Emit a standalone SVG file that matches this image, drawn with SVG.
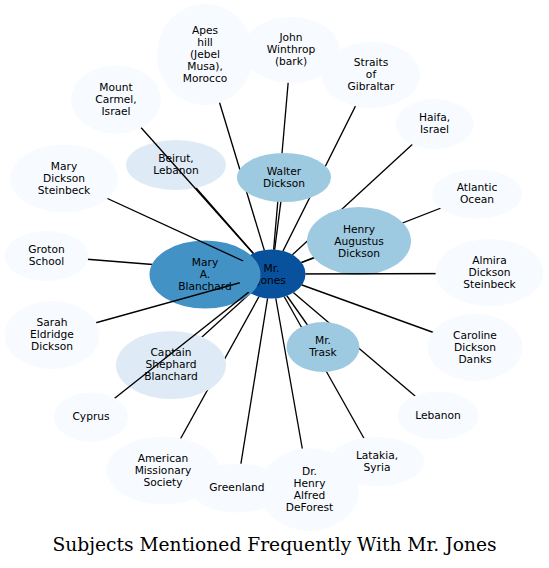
<svg xmlns="http://www.w3.org/2000/svg" xmlns:xlink="http://www.w3.org/1999/xlink" width="549" height="568" viewBox="0 0 549 568">
<style>
.c0{fill:#08519c}.c1{fill:#4292c6}.c2{fill:#9ecae1}.c3{fill:#deebf7}.c4{fill:#f7fbff}
.t{font-family:"DejaVu Sans","Liberation Sans",sans-serif;font-size:10.67px;text-anchor:middle;fill:#000}
.title{font-family:"DejaVu Serif","Liberation Serif",serif;font-size:18.67px;text-anchor:middle;fill:#000}
.e{stroke:#000;stroke-width:1.33;fill:none}
</style>
<defs>
<g id="mb" fill="#000">
<ellipse cx="271.5" cy="274" rx="34" ry="24.5"/>
<ellipse cx="205" cy="54.5" rx="48" ry="50.5"/>
<ellipse cx="291" cy="50" rx="48.5" ry="33"/>
<ellipse cx="371" cy="75" rx="49" ry="33"/>
<ellipse cx="434.5" cy="124" rx="39" ry="25"/>
<ellipse cx="116" cy="99.5" rx="45" ry="34"/>
<ellipse cx="284" cy="177.5" rx="47" ry="24.5"/>
<ellipse cx="477" cy="194" rx="45" ry="24.5"/>
<ellipse cx="489.5" cy="272.5" rx="54" ry="33.5"/>
<ellipse cx="475" cy="347.5" rx="47.5" ry="33.5"/>
<ellipse cx="438" cy="415.5" rx="40.5" ry="24"/>
<ellipse cx="377" cy="461.5" rx="47" ry="24.5"/>
<ellipse cx="309.5" cy="489.5" rx="49.5" ry="41.5"/>
<ellipse cx="237" cy="488" rx="47" ry="24.5"/>
<ellipse cx="163" cy="470.5" rx="56.5" ry="34"/>
<ellipse cx="91" cy="417" rx="37" ry="24.5"/>
<ellipse cx="52" cy="335" rx="47.5" ry="34"/>
<ellipse cx="46.5" cy="256" rx="42" ry="25"/>
<ellipse cx="64" cy="178.5" rx="54" ry="34"/>
<ellipse cx="323" cy="347" rx="36.5" ry="25"/>
</g>
<mask id="m-all" maskUnits="userSpaceOnUse" x="0" y="0" width="549" height="568">
<rect width="549" height="568" fill="#fff"/>
<use href="#mb" xlink:href="#mb"/>
<ellipse cx="176" cy="165" rx="50" ry="25" fill="#000"/>
<ellipse cx="205" cy="274.5" rx="55.5" ry="34" fill="#000"/>
<ellipse cx="171" cy="365" rx="55" ry="34" fill="#000"/>
<ellipse cx="359" cy="241" rx="52" ry="34" fill="#000"/>
</mask>
<mask id="m-over" maskUnits="userSpaceOnUse" x="0" y="0" width="549" height="568">
<rect width="549" height="568" fill="#fff"/>
<use href="#mb" xlink:href="#mb"/>
</mask>
</defs>
<rect width="549" height="568" fill="#fff"/>
<g id="nodes">
<g id="n-jones"><ellipse class="c0" cx="271.5" cy="274" rx="34" ry="24.5"/><text class="t"><tspan x="271.5" y="271.8">Mr.</tspan><tspan x="271.5" y="283.8">Jones</tspan></text></g>
<g id="n-mary-a-blanchard"><ellipse class="c1" cx="205" cy="274.5" rx="55.5" ry="34"/><text class="t"><tspan x="205" y="265.8">Mary</tspan><tspan x="205" y="277.8">A.</tspan><tspan x="205" y="289.8">Blanchard</tspan></text></g>
<g id="n-apes-hill"><ellipse class="c4" cx="205" cy="54.5" rx="48" ry="50.5"/><text class="t"><tspan x="205" y="33.8">Apes</tspan><tspan x="205" y="45.8">hill</tspan><tspan x="205" y="57.8">(Jebel</tspan><tspan x="205" y="69.8">Musa),</tspan><tspan x="205" y="81.8">Morocco</tspan></text></g>
<g id="n-john-winthrop"><ellipse class="c4" cx="291" cy="50" rx="48.5" ry="33"/><text class="t"><tspan x="291" y="40.8">John</tspan><tspan x="291" y="52.8">Winthrop</tspan><tspan x="291" y="64.8">(bark)</tspan></text></g>
<g id="n-straits"><ellipse class="c4" cx="371" cy="75" rx="49" ry="33"/><text class="t"><tspan x="371" y="65.8">Straits</tspan><tspan x="371" y="77.8">of</tspan><tspan x="371" y="89.8">Gibraltar</tspan></text></g>
<g id="n-haifa"><ellipse class="c4" cx="434.5" cy="124" rx="39" ry="25"/><text class="t"><tspan x="434.5" y="120.8">Haifa,</tspan><tspan x="434.5" y="132.8">Israel</tspan></text></g>
<g id="n-mount-carmel"><ellipse class="c4" cx="116" cy="99.5" rx="45" ry="34"/><text class="t"><tspan x="116" y="90.8">Mount</tspan><tspan x="116" y="102.8">Carmel,</tspan><tspan x="116" y="114.8">Israel</tspan></text></g>
<g id="n-beirut"><ellipse class="c3" cx="176" cy="165" rx="50" ry="25"/><text class="t"><tspan x="176" y="161.8">Beirut,</tspan><tspan x="176" y="173.8">Lebanon</tspan></text></g>
<g id="n-walter"><ellipse class="c2" cx="284" cy="177.5" rx="47" ry="24.5"/><text class="t"><tspan x="284" y="174.8">Walter</tspan><tspan x="284" y="186.8">Dickson</tspan></text></g>
<g id="n-henry"><ellipse class="c2" cx="359" cy="241" rx="52" ry="34"/><text class="t"><tspan x="359" y="232.8">Henry</tspan><tspan x="359" y="244.8">Augustus</tspan><tspan x="359" y="256.8">Dickson</tspan></text></g>
<g id="n-atlantic"><ellipse class="c4" cx="477" cy="194" rx="45" ry="24.5"/><text class="t"><tspan x="477" y="191.3">Atlantic</tspan><tspan x="477" y="203.3">Ocean</tspan></text></g>
<g id="n-almira"><ellipse class="c4" cx="489.5" cy="272.5" rx="54" ry="33.5"/><text class="t"><tspan x="489.5" y="264.3">Almira</tspan><tspan x="489.5" y="276.3">Dickson</tspan><tspan x="489.5" y="288.3">Steinbeck</tspan></text></g>
<g id="n-caroline"><ellipse class="c4" cx="475" cy="347.5" rx="47.5" ry="33.5"/><text class="t"><tspan x="475" y="338.8">Caroline</tspan><tspan x="475" y="350.8">Dickson</tspan><tspan x="475" y="362.8">Danks</tspan></text></g>
<g id="n-lebanon"><ellipse class="c4" cx="438" cy="415.5" rx="40.5" ry="24"/><text class="t" x="438" y="418.8">Lebanon</text></g>
<g id="n-deforest"><ellipse class="c4" cx="309.5" cy="489.5" rx="49.5" ry="41.5"/><text class="t"><tspan x="309.5" y="474.8">Dr.</tspan><tspan x="309.5" y="486.8">Henry</tspan><tspan x="309.5" y="498.8">Alfred</tspan><tspan x="309.5" y="510.8">DeForest</tspan></text></g>
<g id="n-latakia"><ellipse class="c4" cx="377" cy="461.5" rx="47" ry="24.5"/><text class="t"><tspan x="377" y="458.8">Latakia,</tspan><tspan x="377" y="470.8">Syria</tspan></text></g>
<g id="n-american-missionary"><ellipse class="c4" cx="163" cy="470.5" rx="56.5" ry="34"/><text class="t"><tspan x="163" y="462.3">American</tspan><tspan x="163" y="474.3">Missionary</tspan><tspan x="163" y="486.3">Society</tspan></text></g>
<g id="n-greenland"><ellipse class="c4" cx="237" cy="488" rx="47" ry="24.5"/><text class="t" x="237" y="490.8">Greenland</text></g>
<g id="n-cyprus"><ellipse class="c4" cx="91" cy="417" rx="37" ry="24.5"/><text class="t" x="91" y="419.8">Cyprus</text></g>
<g id="n-captain"><ellipse class="c3" cx="171" cy="365" rx="55" ry="34"/><text class="t"><tspan x="171" y="355.8">Captain</tspan><tspan x="171" y="367.8">Shephard</tspan><tspan x="171" y="379.8">Blanchard</tspan></text></g>
<g id="n-sarah"><ellipse class="c4" cx="52" cy="335" rx="47.5" ry="34"/><text class="t"><tspan x="52" y="325.8">Sarah</tspan><tspan x="52" y="337.8">Eldridge</tspan><tspan x="52" y="349.8">Dickson</tspan></text></g>
<g id="n-groton"><ellipse class="c4" cx="46.5" cy="256" rx="42" ry="25"/><text class="t"><tspan x="46.5" y="252.8">Groton</tspan><tspan x="46.5" y="264.8">School</tspan></text></g>
<g id="n-mary-dickson-steinbeck"><ellipse class="c4" cx="64" cy="178.5" rx="54" ry="34"/><text class="t"><tspan x="64" y="169.8">Mary</tspan><tspan x="64" y="181.8">Dickson</tspan><tspan x="64" y="193.8">Steinbeck</tspan></text></g>
<g id="n-trask"><ellipse class="c2" cx="323" cy="347" rx="36.5" ry="25"/><text class="t"><tspan x="323" y="343.8">Mr.</tspan><tspan x="323" y="355.8">Trask</tspan></text></g>
</g>
<g id="connectors">
<g mask="url(#m-all)">
<line class="e" x1="205" y1="54.5" x2="271.5" y2="274"/>
<line class="e" x1="291" y1="50" x2="271.5" y2="274"/>
<line class="e" x1="371" y1="75" x2="271.5" y2="274"/>
<line class="e" x1="434.5" y1="124" x2="271.5" y2="274"/>
<line class="e" x1="284" y1="177.5" x2="271.5" y2="274"/>
<line class="e" x1="359" y1="241" x2="271.5" y2="274"/>
<line class="e" x1="477" y1="194" x2="271.5" y2="274"/>
<line class="e" x1="475" y1="347.5" x2="271.5" y2="274"/>
<line class="e" x1="438" y1="415.5" x2="271.5" y2="274"/>
<line class="e" x1="377" y1="461.5" x2="271.5" y2="274"/>
<line class="e" x1="309.5" y1="489.5" x2="271.5" y2="274"/>
<line class="e" x1="237" y1="488" x2="271.5" y2="274"/>
<line class="e" x1="163" y1="470.5" x2="271.5" y2="274"/>
<line class="e" x1="171" y1="365" x2="271.5" y2="274"/>
<line class="e" x1="46.5" y1="256" x2="271.5" y2="274"/>
<line class="e" x1="176" y1="165" x2="271.5" y2="274"/>
<line class="e" x1="323" y1="347" x2="271.5" y2="274"/>
<line class="e" x1="205" y1="274.5" x2="271.5" y2="274"/>
</g>
<g mask="url(#m-over)">
<line class="e" x1="116" y1="99.5" x2="271.5" y2="274"/>
<line class="e" x1="64" y1="178.5" x2="271.5" y2="274"/>
<line class="e" x1="52" y1="335" x2="271.5" y2="274"/>
<line class="e" x1="91" y1="417" x2="271.5" y2="274"/>
<line class="e" x1="489.5" y1="273.5" x2="271.5" y2="274"/>
</g>
</g>
<text class="title" x="274.5" y="551">Subjects Mentioned Frequently With Mr. Jones</text>
</svg>
